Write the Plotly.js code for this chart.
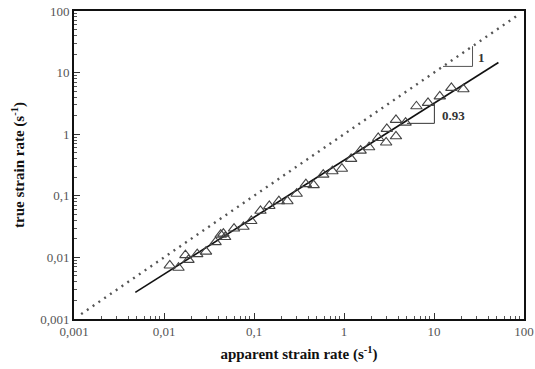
<!DOCTYPE html>
<html>
<head>
<meta charset="utf-8">
<script src="https://cdn.plot.ly/plotly-3.0.1.min.js"></script>
<style>html,body{margin:0;padding:0;background:#fff;}#chart{width:535px;height:369px;}</style>
</head>
<body>
<div id="chart"></div>
<script>
// measured data (apparent vs true strain rate)
var apparentRate = [0.0116,0.0145,0.0173,0.0187,0.0234,0.0293,0.0374,0.0427,0.0457,0.0478,0.060,0.0764,0.0933,0.118,0.148,0.189,0.235,0.298,0.377,0.460,0.588,0.743,0.948,1.20,1.53,1.90,2.40,2.94,2.99,3.78,3.78,4.83,6.38,8.58,11.6,15.6,21.2];
var trueRate     = [0.0074,0.0068,0.0109,0.0091,0.0113,0.0124,0.0177,0.0234,0.0243,0.0214,0.0294,0.0314,0.039,0.0571,0.0684,0.0817,0.0817,0.108,0.155,0.149,0.221,0.251,0.275,0.398,0.541,0.614,0.867,0.734,1.22,0.924,1.71,1.54,2.84,3.23,4.11,5.66,5.38];
// power-law fit line end points (slope 0.93)
var fitX = [0.0048, 52];
var fitY = [0.0027, 14.6];
// y = x reference line end points
var idX = [0.0012, 90];
var idY = [0.0012, 90];
// slope triangles
var tri1X = [12.6, 26.8, 26.8];
var tri1Y = [12.6, 12.6, 26.8];
var tri2X = [5.0, 10.1, 10.1];
var tri2Y = [1.50, 1.50, 3.33];
var label1 = {text: "1", x: 34, y: 17.5};
var label2 = {text: "0.93", x: 16.5, y: 2.05};
// tick labels
var tickVals = [0.001, 0.01, 0.1, 1, 10, 100];
var tickText = ["0,001", "0,01", "0,1", "1", "10", "100"];

var serif = "Liberation Serif";

var traces = [
  {x: idX, y: idY, mode: "lines", line: {color: "#555", width: 2.4, dash: "2px,5px"}, hoverinfo: "skip"},
  {x: fitX, y: fitY, mode: "lines", line: {color: "#111", width: 1.6}, hoverinfo: "skip"},
  {x: tri1X, y: tri1Y, mode: "lines", line: {color: "#555", width: 1}, hoverinfo: "skip"},
  {x: tri2X, y: tri2Y, mode: "lines", line: {color: "#333", width: 1}, hoverinfo: "skip"},
  {x: apparentRate, y: trueRate, mode: "markers",
   marker: {symbol: "triangle-up-open", size: 10, color: "#444", line: {width: 1.1, color: "#444"}}}
];

function axis(title) {
  return {
    type: "log", range: [-3, 2],
    tickvals: tickVals, ticktext: tickText,
    ticks: "inside", ticklen: 6, tickwidth: 1, tickcolor: "#333",
    minor: {ticks: "inside", ticklen: 3, tickwidth: 1, tickcolor: "#555", dtick: "D1", showgrid: false},
    showgrid: false, zeroline: false,
    showline: true, linecolor: "#111", linewidth: 1.8, mirror: true,
    tickfont: {family: serif, size: 13, color: "#555"},
    title: {text: title, font: {family: serif, size: 15, color: "#111"}}
  };
}

var xa = axis("<b>apparent strain rate (s<sup>-1</sup>)</b>");
xa.title.standoff = 10;
var ya = axis("<b>true strain rate (s<sup>-1</sup>)</b>");
ya.title.standoff = 12;

var layout = {
  width: 535, height: 369,
  margin: {l: 74, r: 11, t: 11, b: 50},
  paper_bgcolor: "#fff", plot_bgcolor: "#fff",
  showlegend: false,
  xaxis: xa, yaxis: ya,
  annotations: [label1, label2].map(function (a) {
    return {text: "<b>" + a.text + "</b>", x: Math.log10(a.x), y: Math.log10(a.y),
            xref: "x", yref: "y", showarrow: false,
            font: {family: serif, size: 13, color: "#333"}};
  })
};

Plotly.newPlot("chart", traces, layout, {staticPlot: true});
</script>
</body>
</html>
